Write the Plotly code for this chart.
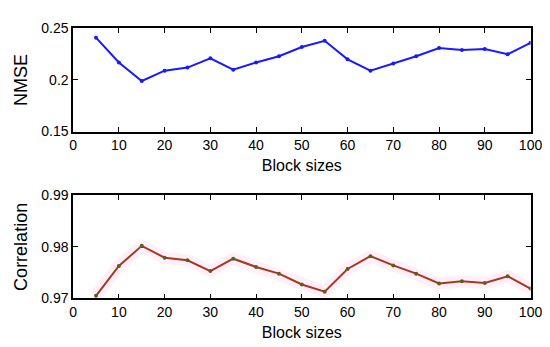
import plotly.graph_objects as go

block_sizes = [5, 10, 15, 20, 25, 30, 35, 40, 45, 50, 55, 60, 65, 70, 75, 80, 85, 90, 95, 100]
nmse = [0.241, 0.217, 0.199, 0.209, 0.212, 0.221, 0.210, 0.217, 0.223, 0.232, 0.238,
        0.220, 0.209, 0.216, 0.223, 0.231, 0.229, 0.230, 0.225, 0.236]
correlation = [0.9705, 0.9763, 0.9802, 0.9779, 0.9774, 0.9753, 0.9777, 0.9761, 0.9748, 0.9727,
               0.9713, 0.9757, 0.9782, 0.9764, 0.9748, 0.9729, 0.9733, 0.9730, 0.9743, 0.9719]

x_ticks = [0, 10, 20, 30, 40, 50, 60, 70, 80, 90, 100]
nmse_ticks = [0.15, 0.2, 0.25]
nmse_labels = ["0.15", "0.2", "0.25"]
corr_ticks = [0.97, 0.98, 0.99]
corr_labels = ["0.97", "0.98", "0.99"]

fig = go.Figure()
fig.add_trace(go.Scatter(x=block_sizes, y=nmse, mode="lines+markers",
                         line=dict(color="#1a1aff", width=2),
                         marker=dict(size=4, color="#1a1aff"),
                         xaxis="x", yaxis="y", showlegend=False))
fig.add_trace(go.Scatter(x=block_sizes, y=correlation, mode="lines",
                         line=dict(color="rgba(255,150,220,0.15)", width=12),
                         xaxis="x2", yaxis="y2", showlegend=False, hoverinfo="skip"))
fig.add_trace(go.Scatter(x=block_sizes, y=correlation, mode="lines+markers",
                         line=dict(color="#a8381c", width=2),
                         marker=dict(size=4, color="#5a6020"),
                         xaxis="x2", yaxis="y2", showlegend=False))

axis_common = dict(showline=True, linecolor="black", linewidth=1.5, mirror="ticks",
                   ticks="inside", ticklen=5, tickcolor="black", showgrid=False,
                   zeroline=False, tickfont=dict(family="Liberation Sans, Arial", size=14, color="black"))
title_font = dict(family="Liberation Sans, Arial", size=16, color="black")
ytitle_font = dict(family="Liberation Sans, Arial", size=18, color="black")

fig.update_layout(
    width=550, height=347,
    margin=dict(l=0, r=0, t=0, b=0),
    paper_bgcolor="white", plot_bgcolor="white",
    xaxis=dict(domain=[0.1145, 0.971], range=[0, 100], tickvals=x_ticks, anchor="y",
               title=dict(text="Block sizes", font=title_font, standoff=8), **axis_common),
    yaxis=dict(domain=[0.651, 0.9625], range=[0.15, 0.25], tickvals=nmse_ticks, ticktext=nmse_labels,
               anchor="x", title=dict(text="NMSE", font=ytitle_font, standoff=9), **axis_common),
    xaxis2=dict(domain=[0.1145, 0.971], range=[0, 100], tickvals=x_ticks, anchor="y2",
                title=dict(text="Block sizes", font=title_font, standoff=8), **axis_common),
    yaxis2=dict(domain=[0.147, 0.458], range=[0.97, 0.99], tickvals=corr_ticks, ticktext=corr_labels,
                anchor="x2", title=dict(text="Correlation", font=ytitle_font, standoff=9), **axis_common),
)

fig.write_html("out.html")
